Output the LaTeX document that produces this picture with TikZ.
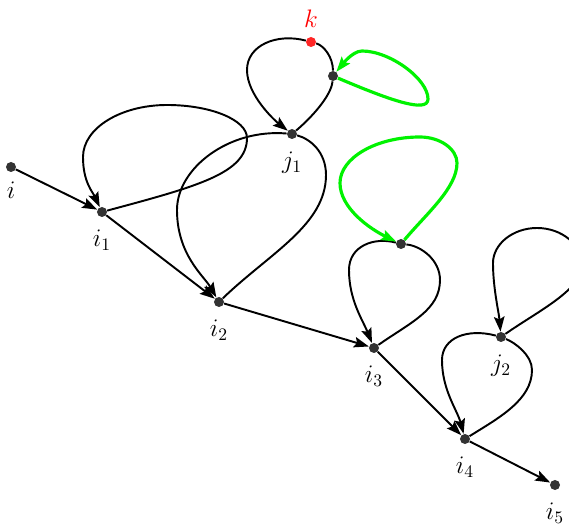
\documentclass[tikz,border=0pt]{standalone}
\usepackage{amsmath}
\usepackage{tikz}
\usetikzlibrary{arrows.meta}

\begin{document}
\begin{tikzpicture}[
  x=0.02cm, y=0.02cm,
  font=\Large,
  >={Stealth[length=8.5pt, width=6pt, inset=1.5pt]},
  vertex/.style={circle, fill=black!80, inner sep=0pt, minimum size=5.7pt},
  redvertex/.style={circle, fill=red!85, inner sep=0pt, minimum size=5.7pt},
  walk/.style={line width=1.1pt, ->},
  greenwalk/.style={line width=1.8pt, draw=green!95!black, ->},
  every label/.style={label distance=3.5pt}
]
\useasboundingbox (0,0) rectangle (569,527);

% Vertices
\node[vertex, label={[label distance=2pt]below:$i$}] (i) at (11,360) {};
\node[vertex, label=below:$i_1$] (i1) at (102,315) {};
\node[vertex, label=below:$i_2$] (i2) at (219,225) {};
\node[vertex, label=below:$i_3$] (i3) at (374,179) {};
\node[vertex, label=below:$i_4$] (i4) at (465,88) {};
\node[vertex, label=below:$i_5$] (i5) at (555,42) {};
\node[vertex, label=below:$j_1$] (j1) at (292,393) {};
\node[vertex, label=below:$j_2$] (j2) at (501,190) {};
\node[vertex] (m) at (333,451) {};
\node[vertex] (n) at (401,283) {};
\node[redvertex, label={[text=red, label distance=1.5pt]above:$k$}] (k) at (311,485) {};

% Main walk
\draw[walk] (i) -- (i1);
\draw[walk] (i1) -- (i2);
\draw[walk] (i2) -- (i3);
\draw[walk] (i3) -- (i4);
\draw[walk] (i4) -- (i5);

% Black loops
\draw[walk] (i1) .. controls +(15:100) and +(0,-35) .. (247,389)
  .. controls +(0,18) and +(44,0) .. (167,422)
  .. controls +(-46,0) and +(0,29) .. (83,370)
  .. controls +(0,-25) and +(115:22) .. (i1);
\draw[walk] (i2) .. controls +(44:70) and +(0,-50) .. (326,352)
  .. controls +(0,23) and +(-15:19) .. (j1)
  .. controls +(175:63) and +(0,42) .. (177,317)
  .. controls +(0,-45) and +(120:30) .. (i2);
\draw[walk] (j1) .. controls +(40:25) and +(-95:20) .. (m)
  .. controls +(90:19) and +(-15:13) .. (k)
  .. controls +(165:35) and +(0,25) .. (247,457)
  .. controls +(0,-25) and +(142:22) .. (j1);
\draw[walk] (i3) .. controls +(35:45) and +(0,-30) .. (440,247)
  .. controls +(0,20) and +(-5:20) .. (n)
  .. controls +(165:28) and +(0,24) .. (349,257)
  .. controls +(0,-30) and +(112:30) .. (i3);
\draw[walk] (i4) .. controls +(32:40) and +(0,-30) .. (532,157)
  .. controls +(0,15) and +(-22:15) .. (j2)
  .. controls +(165:35) and +(0,22) .. (442,167)
  .. controls +(0,-30) and +(105:30) .. (i4);
\draw[walk] (j2) .. controls +(35:45) and +(0,-25) .. (582,262)
  .. controls +(0,20) and +(25,0) .. (537,299)
  .. controls +(-24,0) and +(0,19) .. (493,264)
  .. controls +(0,-25) and +(95:25) .. (j2);

% Green loops
\draw[greenwalk] (m) .. controls +(-23:60) and +(0,-15) .. (428,428)
  .. controls +(0,20) and +(28,0) .. (362,476)
  .. controls +(-10,0) and +(51:12) .. (m);
\draw[greenwalk] (n) .. controls +(50:40) and +(0,-25) .. (457,364)
  .. controls +(0,14) and +(20,0) .. (420,390)
  .. controls +(-44,0) and +(0,25) .. (340,344)
  .. controls +(0,-25) and +(154:35) .. (n);

\end{tikzpicture}
\end{document}
